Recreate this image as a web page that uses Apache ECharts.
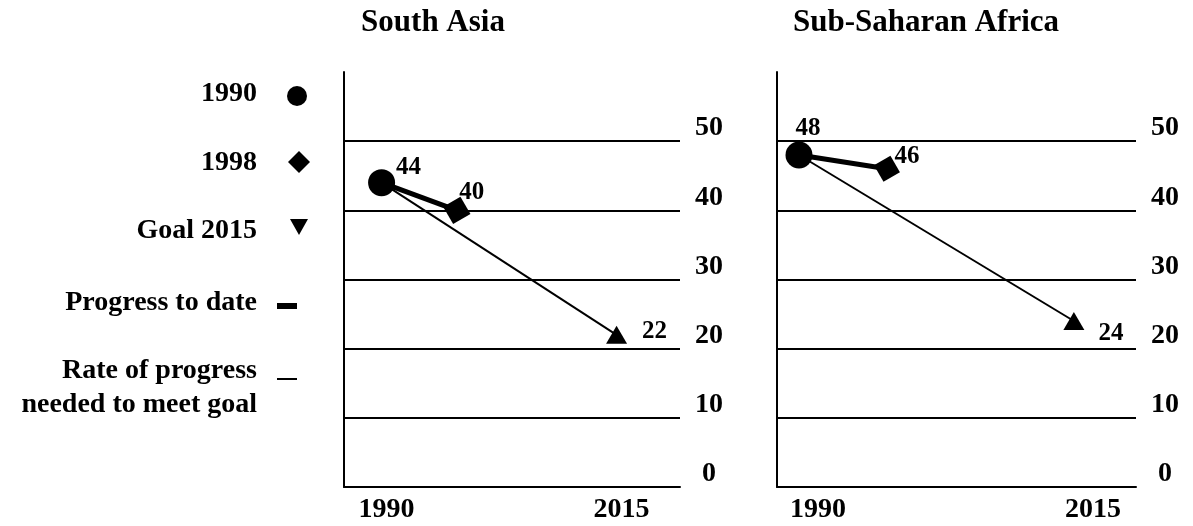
<!DOCTYPE html>
<html>
<head>
<meta charset="utf-8">
<script src="https://cdn.jsdelivr.net/npm/echarts@6/dist/echarts.min.js"></script>
<style>
  html, body { margin: 0; padding: 0; background: #fff; }
  #chart { width: 1193px; height: 526px; }
</style>
</head>
<body>
<div id="chart"></div>
<script>
// ---- Data ----
const years = [1990, 1998, 2015];
const panelTitles = ['South Asia', 'Sub-Saharan Africa'];
const southAsia = [44, 40, 22];
const subSaharanAfrica = [48, 46, 24];
const xTickLabels = [1990, 2015];
const yTickValues = [0, 10, 20, 30, 40, 50];
const legendNames = ['1990', '1998', 'Goal 2015', 'Progress to date', 'Rate of progress\nneeded to meet goal'];

// ---- Styles ----
const FONT = '"Liberation Serif", "Times New Roman", serif';
const BLACK = '#000';
const panelValues = [southAsia, subSaharanAfrica];
const grids = [
  { left: 344, top: 72, width: 336, height: 415 },
  { left: 777, top: 72, width: 359, height: 415 }
];
const xRanges = [[1986, 2021.75], [1988, 2020.65]];
const xLabelPad = [10, 38];
const diamondSizes = [20, 19];
const labelOffsets = [
  [[27, -15], [15, -18], [38, -3]],
  [[9, -26], [20, -12], [37, 13]]
];

const option = {
  backgroundColor: '#fff',
  animation: false,
  title: panelTitles.map((t, i) => ({
    text: t,
    left: i === 0 ? 433 : 926,
    top: 7,
    padding: 0,
    textAlign: 'center',
    textStyle: { fontFamily: FONT, fontWeight: 'bold', fontSize: 31, color: BLACK }
  })),
  grid: grids,
  xAxis: grids.map((g, i) => ({
    type: 'value',
    gridIndex: i,
    min: xRanges[i][0],
    max: xRanges[i][1],
    axisLine: { show: true, onZero: false, lineStyle: { color: BLACK, width: 2 } },
    axisTick: { show: false },
    splitLine: { show: false },
    axisLabel: {
      customValues: xTickLabels,
      margin: 9,
      color: BLACK,
      fontFamily: FONT,
      fontWeight: 'bold',
      fontSize: 28,
      lineHeight: 28,
      padding: [0, 0, 0, xLabelPad[i]],
      formatter: v => String(v)
    }
  })),
  yAxis: [0, 1].flatMap(i => ([
    {
      type: 'value', gridIndex: i, position: 'left', min: 0, max: 60, interval: 10,
      axisLine: { show: true, lineStyle: { color: BLACK, width: 2 } },
      axisTick: { show: false }, axisLabel: { show: false }, splitLine: { show: false }
    },
    {
      type: 'value', gridIndex: i, position: 'right', min: 0, max: 60, interval: 10,
      axisLine: { show: false }, axisTick: { show: false },
      splitLine: { show: true, showMinLine: false, showMaxLine: false, lineStyle: { color: BLACK, width: 2 } },
      axisLabel: {
        showMaxLabel: false,
        margin: 29,
        align: 'center',
        verticalAlign: 'bottom',
        lineHeight: 26,
        color: BLACK,
        fontFamily: FONT,
        fontWeight: 'bold',
        fontSize: 28,
        formatter: v => (yTickValues.indexOf(v) >= 0 ? String(v) : '')
      }
    }
  ])),
  series: [],
  graphic: []
};

const labelStyle = (off) => ({
  show: true,
  position: 'inside',
  offset: off,
  color: BLACK,
  fontFamily: FONT,
  fontWeight: 'bold',
  fontSize: 25,
  formatter: p => String(p.value[1])
});

panelValues.forEach((vals, i) => {
  const yi = i * 2 + 1;
  option.series.push({
    name: legendNames[4], type: 'line', xAxisIndex: i, yAxisIndex: yi,
    data: [[years[0], vals[0]], [years[2], vals[2]]],
    symbol: 'none', lineStyle: { color: BLACK, width: 2 }, z: 2
  });
  option.series.push({
    name: legendNames[3], type: 'line', xAxisIndex: i, yAxisIndex: yi,
    data: [[years[0], vals[0]], [years[1], vals[1]]],
    symbol: 'none', lineStyle: { color: BLACK, width: 5 }, z: 3
  });
  option.series.push({
    name: legendNames[0], type: 'scatter', xAxisIndex: i, yAxisIndex: yi,
    data: [[years[0], vals[0]]], symbol: 'circle', symbolSize: 27,
    itemStyle: { color: BLACK, opacity: 1 }, label: labelStyle(labelOffsets[i][0]), z: 5
  });
  option.series.push({
    name: legendNames[1], type: 'scatter', xAxisIndex: i, yAxisIndex: yi,
    data: [[years[1], vals[1]]], symbol: 'rect', symbolSize: diamondSizes[i], symbolRotate: 30,
    itemStyle: { color: BLACK, opacity: 1 }, label: labelStyle(labelOffsets[i][1]), z: 5
  });
  option.series.push({
    name: legendNames[2], type: 'scatter', xAxisIndex: i, yAxisIndex: yi,
    data: [[years[2], vals[2]]], symbol: 'triangle', symbolSize: [21, 18],
    itemStyle: { color: BLACK, opacity: 1 }, label: labelStyle(labelOffsets[i][2]), z: 5
  });
});

// ---- Key on the left ----
const keyFont = 'bold 28px ' + FONT;
const rowY = [94, 163, 231, 303, 388];
legendNames.forEach((name, k) => {
  option.graphic.push({
    type: 'text', x: 257, y: rowY[k],
    style: {
      text: name, font: keyFont, fill: BLACK,
      textAlign: 'right', textVerticalAlign: 'middle', align: 'right', verticalAlign: 'middle',
      lineHeight: 34
    }
  });
});
option.graphic.push(
  { type: 'circle', shape: { cx: 297, cy: 96, r: 10 }, style: { fill: BLACK } },
  { type: 'polygon', shape: { points: [[288, 162], [299, 151], [310, 162], [299, 173]] }, style: { fill: BLACK } },
  { type: 'polygon', shape: { points: [[290, 219], [308, 219], [299, 235]] }, style: { fill: BLACK } },
  { type: 'rect', shape: { x: 277, y: 303, width: 20, height: 6 }, style: { fill: BLACK } },
  { type: 'rect', shape: { x: 277, y: 378, width: 20, height: 2 }, style: { fill: BLACK } }
);

const chart = echarts.init(document.getElementById('chart'), null, { renderer: 'canvas' });
chart.setOption(option);
</script>
</body>
</html>
